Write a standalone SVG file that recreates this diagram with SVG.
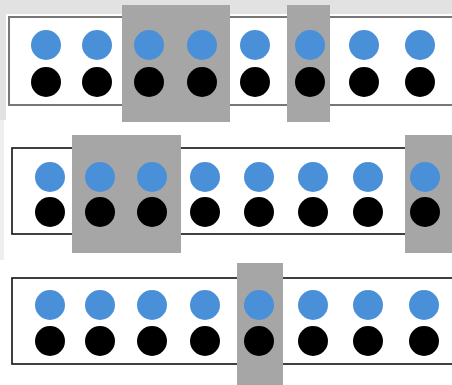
<svg xmlns="http://www.w3.org/2000/svg" width="452" height="385" viewBox="0 0 452 385">
<style>
.bg{fill:#ffffff}
.frame{fill:#e2e2e2}
.panel{fill:#ffffff;stroke:#111;stroke-width:1.6}
.panel1{fill:#ffffff;stroke:#777;stroke-width:2}
.hl{fill:#a6a6a6}
.b{fill:#4a90d9}
.k{fill:#000}
</style>
<rect class="bg" x="0" y="0" width="452" height="385"/>
<rect class="frame" x="0" y="0" width="452" height="14"/>
<rect class="frame" x="0" y="0" width="6" height="120"/>
<rect class="frame" x="0" y="120" width="4" height="140" opacity="0.6"/>
<g id="panel1">
<rect class="panel1" x="9" y="17" width="450" height="88"/>
<rect class="hl" x="122" y="5" width="108" height="117"/>
<rect class="hl" x="287" y="5" width="43" height="117"/>
<g class="dots">
<circle class="b" cx="46" cy="45" r="15"/><circle class="k" cx="46" cy="82" r="15"/>
<circle class="b" cx="97" cy="45" r="15"/><circle class="k" cx="97" cy="82" r="15"/>
<circle class="b" cx="149" cy="45" r="15"/><circle class="k" cx="149" cy="82" r="15"/>
<circle class="b" cx="202" cy="45" r="15"/><circle class="k" cx="202" cy="82" r="15"/>
<circle class="b" cx="255" cy="45" r="15"/><circle class="k" cx="255" cy="82" r="15"/>
<circle class="b" cx="310" cy="45" r="15"/><circle class="k" cx="310" cy="82" r="15"/>
<circle class="b" cx="364" cy="45" r="15"/><circle class="k" cx="364" cy="82" r="15"/>
<circle class="b" cx="420" cy="45" r="15"/><circle class="k" cx="420" cy="82" r="15"/>
</g>
</g>
<g id="panel2">
<rect class="panel" x="12" y="148" width="450" height="86"/>
<rect class="hl" x="72" y="135" width="109" height="118"/>
<rect class="hl" x="405" y="135" width="50" height="118"/>
<g class="dots">
<circle class="b" cx="50" cy="177" r="15"/><circle class="k" cx="50" cy="212" r="15"/>
<circle class="b" cx="100" cy="177" r="15"/><circle class="k" cx="100" cy="212" r="15"/>
<circle class="b" cx="152" cy="177" r="15"/><circle class="k" cx="152" cy="212" r="15"/>
<circle class="b" cx="205" cy="177" r="15"/><circle class="k" cx="205" cy="212" r="15"/>
<circle class="b" cx="259" cy="177" r="15"/><circle class="k" cx="259" cy="212" r="15"/>
<circle class="b" cx="313" cy="177" r="15"/><circle class="k" cx="313" cy="212" r="15"/>
<circle class="b" cx="368" cy="177" r="15"/><circle class="k" cx="368" cy="212" r="15"/>
<circle class="b" cx="425" cy="177" r="15"/><circle class="k" cx="425" cy="212" r="15"/>
</g>
</g>
<g id="panel3">
<rect class="panel" x="12" y="278" width="450" height="86"/>
<rect class="hl" x="237" y="263" width="46" height="122"/>
<g class="dots">
<circle class="b" cx="50" cy="305" r="15"/><circle class="k" cx="50" cy="341" r="15"/>
<circle class="b" cx="100" cy="305" r="15"/><circle class="k" cx="100" cy="341" r="15"/>
<circle class="b" cx="152" cy="305" r="15"/><circle class="k" cx="152" cy="341" r="15"/>
<circle class="b" cx="205" cy="305" r="15"/><circle class="k" cx="205" cy="341" r="15"/>
<circle class="b" cx="259" cy="305" r="15"/><circle class="k" cx="259" cy="341" r="15"/>
<circle class="b" cx="313" cy="305" r="15"/><circle class="k" cx="313" cy="341" r="15"/>
<circle class="b" cx="368" cy="305" r="15"/><circle class="k" cx="368" cy="341" r="15"/>
<circle class="b" cx="424" cy="305" r="15"/><circle class="k" cx="424" cy="341" r="15"/>
</g>
</g>
<g id="connectors"/>
</svg>
